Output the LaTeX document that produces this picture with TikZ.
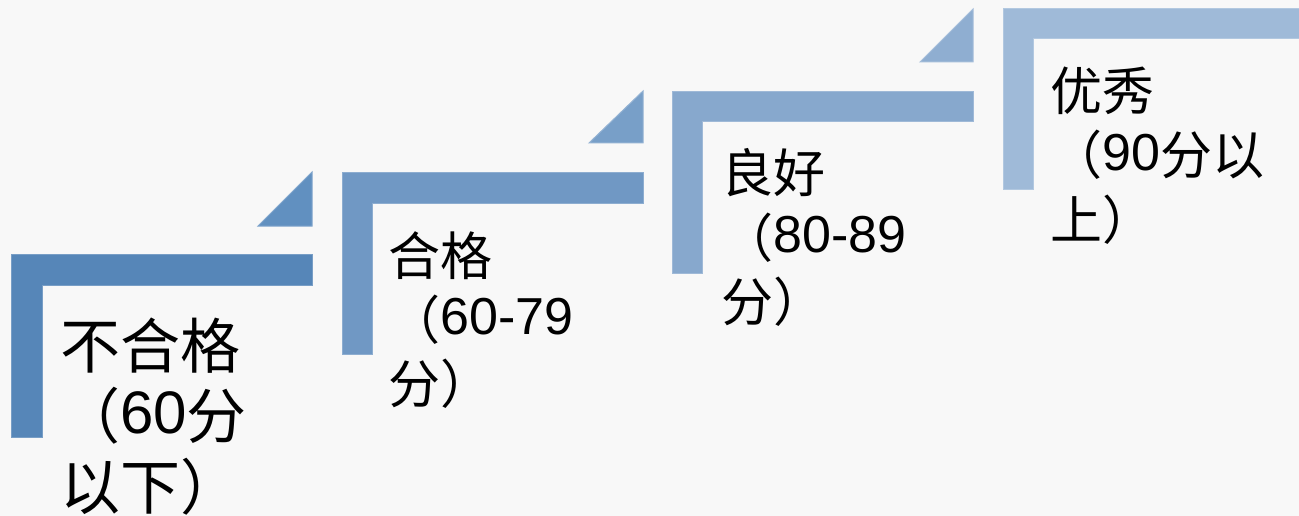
\documentclass[tikz,border=0pt]{standalone}
\usepackage{fontspec}
\setmainfont{Liberation Sans}
\newfontfamily\cj{Noto Sans CJK SC}
\newcommand{\lat}[1]{\raisebox{0.08em}{#1}}
\definecolor{bg}{HTML}{F8F8F8}
\definecolor{cA}{HTML}{5686B8}
\definecolor{cB}{HTML}{7098C4}
\definecolor{cC}{HTML}{87A8CD}
\definecolor{cD}{HTML}{9FBAD8}
\definecolor{tA}{HTML}{6190C0}
\definecolor{tB}{HTML}{789FC8}
\definecolor{tC}{HTML}{8FAED1}
\tikzset{
  stepshape/.style={line width=1pt, line join=miter},
  lbl/.style={anchor=base west, inner sep=0pt, text=black},
  big/.style={font=\fontsize{60}{60}\selectfont},
  mid/.style={font=\fontsize{52}{52}\selectfont}
}
\begin{document}
\begin{tikzpicture}[x=1pt,y=-1pt]
\fill[bg] (0,0) rectangle (1299,516);
\useasboundingbox (0,0) rectangle (1299,516);
% shape 1
\filldraw[stepshape, fill=cA, draw=cA!80!white] (11,254) -- (312,254) -- (312,285) -- (42,285) -- (42,437) -- (11,437) -- cycle;
\filldraw[stepshape, fill=tA, draw=tA!80!white] (258,226) -- (312,226) -- (312,172) -- cycle;
% shape 2
\filldraw[stepshape, fill=cB, draw=cB!80!white] (342,173) -- (643,173) -- (643,203) -- (372,203) -- (372,354) -- (342,354) -- cycle;
\filldraw[stepshape, fill=tB, draw=tB!80!white] (589,143) -- (643,143) -- (643,91) -- cycle;
% shape 3
\filldraw[stepshape, fill=cC, draw=cC!80!white] (672,92) -- (973,92) -- (973,122) -- (702,122) -- (702,273) -- (672,273) -- cycle;
\filldraw[stepshape, fill=tC, draw=tC!80!white] (920,62) -- (973,62) -- (973,9) -- cycle;
% shape 4
\filldraw[stepshape, fill=cD, draw=cD!80!white] (1003,9) -- (1310,9) -- (1310,39) -- (1033,39) -- (1033,190) -- (1003,190) -- cycle;
% texts
\node[lbl, big] (a1) at (60,368) {\cj 不合格};
\node[lbl, big] (a2) at (60,438) {{\cj （}\lat{60}{\cj 分}};
\node[lbl, big] (a3) at (60,509) {\cj 以下）};
\node[lbl, mid] (b1) at (388,275) {\cj 合格};
\node[lbl, mid] (b2) at (388,339) {{\cj （}\lat{60-79}};
\node[lbl, mid] (b3) at (388,403) {\cj 分）};
\node[lbl, mid] (c1) at (721,193) {\cj 良好};
\node[lbl, mid] (c2) at (721,257) {{\cj （}\lat{80-89}};
\node[lbl, mid] (c3) at (721,321) {\cj 分）};
\node[lbl, mid] (d1) at (1050,111) {\cj 优秀};
\node[lbl, mid] (d2) at (1050,175) {{\cj （}\lat{90}{\cj 分以}};
\node[lbl, mid] (d3) at (1050,239) {\cj 上）};
\end{tikzpicture}
\end{document}
